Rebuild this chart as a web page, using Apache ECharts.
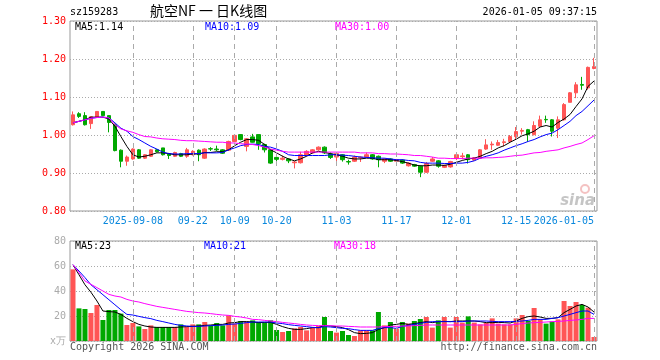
<!DOCTYPE html>
<html><head><meta charset="utf-8">
<script src="https://cdn.jsdelivr.net/npm/echarts@6/dist/echarts.min.js"></script>
<style>html,body{margin:0;padding:0;background:#fff}#c{width:660px;height:360px}</style>
</head><body><div id="c"></div>
<script>
const dates = [
'2025-08-25','2025-08-26','2025-08-27','2025-08-28','2025-08-29',
'2025-09-01','2025-09-02','2025-09-03','2025-09-04','2025-09-05',
'2025-09-08','2025-09-09','2025-09-10','2025-09-11','2025-09-12',
'2025-09-15','2025-09-16','2025-09-17','2025-09-18','2025-09-19',
'2025-09-22','2025-09-23','2025-09-24','2025-09-25','2025-09-26',
'2025-09-29','2025-09-30','2025-10-09','2025-10-10',
'2025-10-13','2025-10-14','2025-10-15','2025-10-16','2025-10-17',
'2025-10-20','2025-10-21','2025-10-22','2025-10-23','2025-10-24',
'2025-10-27','2025-10-28','2025-10-29','2025-10-30','2025-10-31',
'2025-11-03','2025-11-04','2025-11-05','2025-11-06','2025-11-07',
'2025-11-10','2025-11-11','2025-11-12','2025-11-13','2025-11-14',
'2025-11-17','2025-11-18','2025-11-19','2025-11-20','2025-11-21',
'2025-11-24','2025-11-25','2025-11-26','2025-11-27','2025-11-28',
'2025-12-01','2025-12-02','2025-12-03','2025-12-04','2025-12-05',
'2025-12-08','2025-12-09','2025-12-10','2025-12-11','2025-12-12',
'2025-12-15','2025-12-16','2025-12-17','2025-12-18','2025-12-19',
'2025-12-22','2025-12-23','2025-12-24','2025-12-25','2025-12-26',
'2025-12-29','2025-12-30','2025-12-31','2026-01-05'];

const opens = [1.027,1.056,1.051,1.030,1.047,1.062,1.051,1.027,0.960,0.931,
0.937,0.961,0.939,0.944,0.961,0.966,0.951,0.944,0.951,0.944,
0.948,0.960,0.939,0.964,0.963,0.961,0.960,0.983,1.001,0.970,
0.995,1.001,0.975,0.961,0.941,0.936,0.937,0.927,0.927,0.946,
0.953,0.961,0.968,0.950,0.942,0.948,0.930,0.931,0.940,0.942,
0.948,0.944,0.931,0.937,0.931,0.934,0.919,0.922,0.918,0.902,
0.931,0.932,0.915,0.916,0.938,0.943,0.948,0.934,0.939,0.963,
0.974,0.973,0.980,0.983,0.996,1.010,1.014,1.001,1.023,1.041,
1.040,1.018,1.040,1.086,1.111,1.133,1.124,1.175];
const closes = [1.053,1.049,1.027,1.048,1.062,1.051,1.033,0.959,0.931,0.942,
0.963,0.939,0.948,0.961,0.956,0.948,0.946,0.954,0.944,0.961,
0.957,0.948,0.963,0.963,0.961,0.952,0.983,0.999,0.988,0.990,
0.981,0.977,0.961,0.926,0.936,0.939,0.932,0.929,0.948,0.957,
0.961,0.968,0.953,0.941,0.951,0.935,0.929,0.942,0.942,0.948,
0.937,0.935,0.937,0.931,0.935,0.926,0.926,0.918,0.902,0.925,
0.937,0.918,0.920,0.930,0.948,0.945,0.935,0.940,0.961,0.974,
0.976,0.980,0.982,0.996,1.009,1.012,1.001,1.025,1.040,1.040,
1.010,1.040,1.080,1.111,1.132,1.131,1.178,1.180];
const lows = [1.025,1.045,1.025,1.016,1.045,1.050,1.007,0.957,0.915,0.919,
0.935,0.937,0.937,0.942,0.954,0.946,0.937,0.942,0.942,0.940,
0.946,0.931,0.937,0.958,0.958,0.950,0.958,0.981,0.986,0.957,
0.980,0.961,0.954,0.924,0.927,0.933,0.926,0.912,0.925,0.944,
0.951,0.959,0.950,0.937,0.931,0.930,0.922,0.929,0.929,0.940,
0.935,0.915,0.926,0.929,0.929,0.924,0.917,0.916,0.889,0.900,
0.929,0.914,0.913,0.914,0.934,0.936,0.925,0.932,0.937,0.961,
0.961,0.971,0.970,0.979,0.987,1.001,0.982,0.999,1.021,1.032,
0.996,0.992,1.038,1.086,1.097,1.119,1.119,1.173];
const highs = [1.062,1.060,1.060,1.050,1.062,1.062,1.051,1.030,0.962,0.946,
0.965,0.963,0.950,0.963,0.963,0.966,0.953,0.956,0.953,0.966,
0.960,0.962,0.965,0.968,0.972,0.963,0.985,1.001,1.002,0.992,
1.003,1.001,0.977,0.963,0.946,0.946,0.939,0.931,0.956,0.960,
0.963,0.970,0.970,0.954,0.953,0.950,0.935,0.946,0.944,0.954,
0.950,0.946,0.939,0.939,0.937,0.936,0.928,0.924,0.920,0.929,
0.942,0.934,0.922,0.932,0.955,0.953,0.950,0.942,0.963,0.989,
0.983,0.987,0.990,1.000,1.021,1.018,1.016,1.036,1.051,1.051,
1.042,1.049,1.084,1.113,1.139,1.153,1.180,1.203];

const ma5 = [1.032,1.036,1.040,1.047,1.047,1.047,1.042,1.023,0.996,0.970,
0.948,0.942,0.944,0.948,0.953,0.953,0.951,0.948,0.948,0.948,
0.950,0.950,0.954,0.954,0.956,0.956,0.961,0.972,0.981,0.988,
0.988,0.986,0.975,0.961,0.953,0.944,0.937,0.932,0.937,0.944,
0.953,0.957,0.954,0.951,0.948,0.944,0.939,0.937,0.937,0.939,
0.939,0.935,0.935,0.935,0.933,0.930,0.926,0.921,0.919,0.919,
0.921,0.921,0.920,0.923,0.928,0.933,0.937,0.939,0.944,0.951,
0.957,0.966,0.972,0.981,0.989,0.998,1.003,1.010,1.021,1.025,
1.021,1.033,1.042,1.054,1.075,1.095,1.128,1.142];
const ma10 = [1.032,1.036,1.040,1.044,1.046,1.047,1.045,1.032,1.018,1.010,
0.996,0.988,0.979,0.970,0.963,0.955,0.951,0.950,0.950,0.951,
0.951,0.951,0.953,0.953,0.953,0.954,0.961,0.966,0.972,0.975,
0.976,0.975,0.970,0.968,0.963,0.957,0.948,0.946,0.946,0.946,
0.946,0.946,0.946,0.948,0.948,0.947,0.946,0.944,0.942,0.941,
0.940,0.939,0.939,0.937,0.935,0.935,0.933,0.932,0.928,0.926,
0.926,0.926,0.925,0.925,0.926,0.926,0.928,0.932,0.939,0.944,
0.948,0.953,0.960,0.966,0.972,0.977,0.983,0.988,0.995,1.001,
1.005,1.014,1.025,1.036,1.051,1.062,1.077,1.092];
const ma30 = [1.032,1.036,1.040,1.044,1.046,1.047,1.045,1.027,1.016,1.011,
1.007,1.001,0.996,0.995,0.992,0.990,0.989,0.988,0.986,0.985,
0.985,0.984,0.983,0.982,0.981,0.981,0.979,0.979,0.977,0.976,
0.975,0.972,0.968,0.963,0.960,0.957,0.955,0.955,0.955,0.955,
0.955,0.955,0.955,0.955,0.955,0.955,0.955,0.955,0.953,0.953,
0.953,0.951,0.951,0.950,0.950,0.949,0.948,0.946,0.946,0.944,
0.942,0.939,0.939,0.938,0.938,0.938,0.939,0.939,0.939,0.940,
0.940,0.941,0.942,0.944,0.946,0.947,0.950,0.953,0.954,0.957,
0.959,0.961,0.966,0.970,0.975,0.979,0.988,0.998];

const vols = [57.3,26.1,25.6,22.4,28.8,16.8,24.8,24.8,21.9,12.8,
14.4,11.7,9.6,12.5,11.2,11.2,11.2,11.2,13.3,11.2,
13.3,13.3,15.2,12.3,14.4,12.5,20.5,13.9,16.0,15.5,
16.5,15.2,14.9,16.5,8.8,7.2,8.0,10.1,11.2,8.5,
10.7,12.0,19.2,8.0,6.7,8.0,4.8,4.0,8.5,8.5,
8.5,23.2,12.5,15.2,9.9,15.2,13.9,16.0,17.6,19.2,
10.7,16.5,19.2,10.7,19.2,14.7,19.7,14.7,13.3,14.4,
18.1,13.9,13.3,13.3,18.1,20.8,16.0,26.4,17.3,13.9,
15.5,17.3,32.0,28.0,31.2,28.8,26.7,3.2];
const vma5 = [61,53,45,39,32,24,23.5,23.2,21.3,18.1,
15.5,13.3,12,11.2,10.9,10.9,10.9,10.9,11.2,11.5,
11.7,12,12.5,12.8,13.3,13.3,14.4,14.7,15.5,15.5,
15.2,14.7,14.9,14.9,13.3,11.5,10.1,9.3,9.3,9.9,
10.7,10.7,12.5,12,11.5,10.7,9.1,6.7,5.9,6.1,
6.7,9.3,10.7,12.8,13.3,14.1,13.3,13.9,14.7,15.5,
14.7,15.5,15.7,15.5,16,16,16,16,15.5,14.7,
14.7,14.9,14.7,14.4,16,18.1,19.5,20,19.2,18.1,
18.1,18.7,22.7,25.3,28,29.3,27.2,23.2];
const vma10 = [61,56,50.7,45,41,37,33,29,25,21.3,
20.8,19.7,18.7,17.9,16.5,15.5,14.4,13.3,12.5,12,
11.7,11.7,12,12.3,12.5,12.8,13.3,13.6,14.1,14.7,
15.2,15.2,15.2,15.2,14.4,13.9,13.1,12.5,12,11.5,
10.9,10.7,11.5,11.2,10.7,10.1,9.9,9.1,8.5,8.5,
8.5,9.9,10.7,10.7,10.1,11.7,12.5,13.3,14.1,14.9,
15.5,15.5,15.5,15.5,15.5,15.5,16,16,16,16,
15.7,15.5,15.5,15.5,15.7,16,16.5,17.3,17.3,17.3,
18.1,18.7,20,21.3,22.7,24,24,21.3];
const vma30 = [61,54.7,48,45.3,42.7,40,37.3,36,35.2,33.3,
32,31.2,29.9,28.8,27.7,26.9,26.1,25.3,24.5,23.7,
23.2,22.7,22.4,21.9,21.3,20.8,20.5,19.7,19.2,18.4,
17.3,17.1,16.5,16,15.5,14.9,14.4,13.9,13.3,12.8,
12.5,12.3,12.3,12.3,12,12,11.7,11.5,11.2,11.2,
11.2,11.2,11.5,11.7,11.7,12,12,12.3,12.5,12.8,
12.8,12.8,12.8,12.8,12.8,12.8,12.8,12.8,12.8,12.8,
12.8,12.8,12.8,12.8,13.3,13.9,14.4,14.7,14.9,15.2,
15.5,15.7,16,16.5,16.8,17.3,18.1,18.1];

const tickDates = ['2025-09-08','2025-09-22','2025-10-09','2025-10-20','2025-11-03','2025-11-17','2025-12-01','2025-12-15','2026-01-05'];
const tickLabels = ['2025-09-08','09-22','10-09','10-20','11-03','11-17','12-01','12-15','2026-01-05'];
const priceTicks = [0.8, 1.3, 0.1];
const volTicks = [0, 80, 20];

const UP = '#ff5555', DOWN = '#00a800';
const MONO = 'DejaVu Sans Mono';
const candleData = opens.map((o, i) => [o, closes[i], lows[i], highs[i]]);
const volData = vols.map((v, i) => ({value: v, itemStyle: {color: closes[i] >= opens[i] ? UP : DOWN}}));
const vlines = {
  silent: true, symbol: ['none', 'none'], animation: false,
  label: {show: false},
  lineStyle: {color: '#aaa', type: [5, 4], width: 1},
  data: tickDates.map(d => ({xAxis: d}))
};
const last = a => a[a.length - 1];
const G0 = {left: 70, top: 21, width: 527, height: 190};
const G1 = {left: 70, top: 241, width: 527, height: 100};

const chart = echarts.init(document.getElementById('c'), null, {renderer: 'canvas'});
chart.setOption({
  animation: false,
  backgroundColor: '#fff',
  textStyle: {fontFamily: MONO},
  grid: [
    Object.assign({show: true, borderColor: '#999', borderWidth: 1}, G0),
    Object.assign({show: true, borderColor: '#999', borderWidth: 1}, G1)
  ],
  xAxis: [
    {type: 'category', gridIndex: 0, data: dates, boundaryGap: true,
     axisLine: {show: false}, axisTick: {show: false}, splitLine: {show: false},
     axisLabel: {
       interval: (idx, val) => tickDates.indexOf(val) >= 0,
       formatter: v => tickLabels[tickDates.indexOf(v)],
       color: '#0a88dd', fontFamily: MONO, fontSize: 10, margin: 5,
       alignMaxLabel: 'right', showMaxLabel: true, showMinLabel: true, hideOverlap: false
     }},
    {type: 'category', gridIndex: 1, data: dates, boundaryGap: true,
     axisLine: {show: false}, axisTick: {show: false}, splitLine: {show: false},
     axisLabel: {show: false}}
  ],
  yAxis: [
    {type: 'value', gridIndex: 0, min: priceTicks[0], max: priceTicks[1], interval: priceTicks[2],
     axisLine: {show: false}, axisTick: {show: false},
     axisLabel: {color: '#ff0000', fontFamily: MONO, fontSize: 10, margin: 4, formatter: v => v.toFixed(2)},
     splitLine: {show: true, lineStyle: {color: '#aaa', type: [1, 2], width: 1}}},
    {type: 'value', gridIndex: 1, min: volTicks[0], max: volTicks[1], interval: volTicks[2],
     axisLine: {show: false}, axisTick: {show: false},
     axisLabel: {color: '#aaa', fontFamily: MONO, fontSize: 10, margin: 4, formatter: v => v === 0 ? 'x万' : String(v)},
     splitLine: {show: true, lineStyle: {color: '#aaa', type: [1, 2], width: 1}}}
  ],
  series: [
    {type: 'candlestick', xAxisIndex: 0, yAxisIndex: 0, data: candleData, barWidth: 4,
     itemStyle: {color: UP, color0: DOWN, borderColor: UP, borderColor0: DOWN, borderWidth: 1},
     markLine: vlines, z: 3},
    {type: 'line', xAxisIndex: 0, yAxisIndex: 0, data: ma5, showSymbol: false, symbol: 'none',
     lineStyle: {color: '#000', width: 1}, z: 4},
    {type: 'line', xAxisIndex: 0, yAxisIndex: 0, data: ma10, showSymbol: false, symbol: 'none',
     lineStyle: {color: '#0000ff', width: 1}, z: 4},
    {type: 'line', xAxisIndex: 0, yAxisIndex: 0, data: ma30, showSymbol: false, symbol: 'none',
     lineStyle: {color: '#ff00ff', width: 1}, z: 4},
    {type: 'bar', xAxisIndex: 1, yAxisIndex: 1, data: volData, barWidth: 5, markLine: vlines, z: 3},
    {type: 'line', xAxisIndex: 1, yAxisIndex: 1, data: vma5, showSymbol: false, symbol: 'none',
     lineStyle: {color: '#000', width: 1}, z: 4},
    {type: 'line', xAxisIndex: 1, yAxisIndex: 1, data: vma10, showSymbol: false, symbol: 'none',
     lineStyle: {color: '#0000ff', width: 1}, z: 4},
    {type: 'line', xAxisIndex: 1, yAxisIndex: 1, data: vma30, showSymbol: false, symbol: 'none',
     lineStyle: {color: '#ff00ff', width: 1}, z: 4}
  ],
  graphic: [
    {type: 'text', left: 70, top: 7, style: {text: 'sz159283', fill: '#000', font: '10px "DejaVu Sans Mono"'}},
    {type: 'text', left: 150, top: 4, style: {text: '航空NF 一 日K线图', fill: '#000', font: '14px "Noto Sans CJK SC"'}},
    {type: 'text', right: 63, top: 7, style: {text: '2026-01-05 09:37:15', fill: '#000', font: '10px "DejaVu Sans Mono"'}},
    {type: 'text', x: 75, y: 27, style: {text: 'MA5:' + last(ma5).toFixed(2), fill: '#000', font: '10px "DejaVu Sans Mono"', verticalAlign: 'middle'}, z: 10},
    {type: 'text', x: 205, y: 27, style: {text: 'MA10:' + last(ma10).toFixed(2), fill: '#0000ff', font: '10px "DejaVu Sans Mono"', verticalAlign: 'middle'}, z: 10},
    {type: 'text', x: 335, y: 27, style: {text: 'MA30:' + last(ma30).toFixed(2), fill: '#ff00ff', font: '10px "DejaVu Sans Mono"', verticalAlign: 'middle'}, z: 10},
    {type: 'text', x: 75, y: 246, style: {text: 'MA5:' + last(vma5).toFixed(0), fill: '#000', font: '10px "DejaVu Sans Mono"', verticalAlign: 'middle'}, z: 10},
    {type: 'text', x: 204, y: 246, style: {text: 'MA10:' + last(vma10).toFixed(0), fill: '#0000ff', font: '10px "DejaVu Sans Mono"', verticalAlign: 'middle'}, z: 10},
    {type: 'text', x: 334, y: 246, style: {text: 'MA30:' + last(vma30).toFixed(0), fill: '#ff00ff', font: '10px "DejaVu Sans Mono"', verticalAlign: 'middle'}, z: 10},
    {type: 'text', x: 70, y: 347, style: {text: 'Copyright 2026 SINA.COM', fill: '#555', font: '10px "DejaVu Sans Mono"', verticalAlign: 'middle'}},
    {type: 'text', x: 597, y: 347, style: {text: 'http://finance.sina.com.cn', fill: '#555', font: '10px "DejaVu Sans Mono"', align: 'right', verticalAlign: 'middle'}},
    {type: 'text', x: 595, y: 201, style: {text: 'sina', fill: 'rgba(150,150,150,0.55)', font: 'italic bold 15px "DejaVu Sans"', align: 'right', verticalAlign: 'middle'}, z: 1},
    {type: 'circle', shape: {cx: 585, cy: 189, r: 4}, style: {fill: 'none', stroke: 'rgba(230,120,120,0.45)', lineWidth: 2}, z: 1}
  ]
});
</script></body></html>
